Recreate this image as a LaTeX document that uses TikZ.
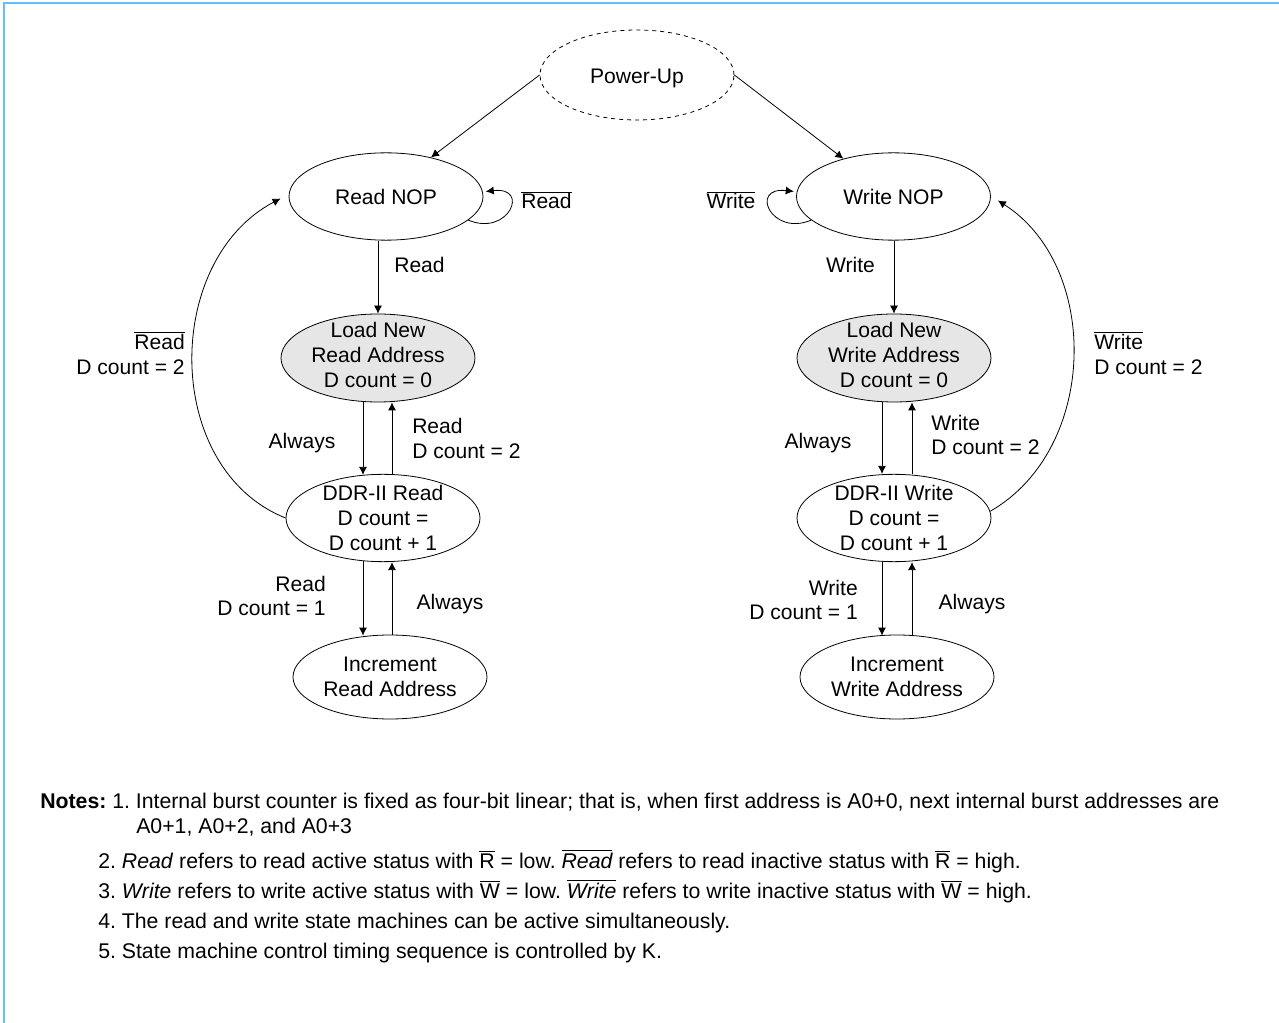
\documentclass[tikz,border=0pt]{standalone}
\usepackage{fontspec}
\setmainfont{Liberation Sans}
\usetikzlibrary{shapes.geometric,arrows.meta,calc}
\definecolor{frameblue}{RGB}{102,190,255}
\definecolor{loadgray}{RGB}{230,230,230}
\frenchspacing
\begin{document}
\begin{tikzpicture}[x=0.75pt,y=-0.75pt,
  every node/.style={font=\fontsize{15.8}{18.4}\selectfont, inner sep=0pt},
  state/.style={ellipse, draw, line width=0.6pt, minimum width=145.5pt, minimum height=65.5pt},
  txt/.style={label={[align=center]center:{#1}}},
  arr/.style={-{Latex[length=6pt,width=6pt]}, line width=0.6pt},
  note/.style={anchor=base west, font=\fontsize{15.95}{18}\selectfont}]
\useasboundingbox (0,0) rectangle (1279,1023);
\draw[frameblue, line width=1.5pt] (1279,3) -- (4,3) -- (4,1023);

% states
\node[state, dash pattern=on 3pt off 3pt, minimum height=67.5pt,
  label={[align=center,yshift=-2.25pt]center:{Power-Up}}] (pu) at (637,75) {};
\node[state, txt={Read NOP}] (rnop) at (386,196.5) {};
\node[state, fill=loadgray, minimum height=66pt,
  label={[align=center,yshift=2.25pt]center:{Load New\\Read Address\\D count = 0}}] (rload) at (378,358) {};
\node[state, txt={DDR-II Read\\D count =\\D count + 1}] (rddr) at (383,518) {};
\node[state, minimum height=63pt, txt={Increment\\Read Address}] (rinc) at (390,677) {};
\node[state, txt={Write NOP}] (wnop) at (893.5,196.5) {};
\node[state, fill=loadgray, minimum height=66pt,
  label={[align=center,yshift=2.25pt]center:{Load New\\Write Address\\D count = 0}}] (wload) at (894,358) {};
\node[state, txt={DDR-II Write\\D count =\\D count + 1}] (wddr) at (894,518) {};
\node[state, minimum height=63pt, txt={Increment\\Write Address}] (winc) at (897,677) {};

% labels
\node[anchor=base] (lr1) at (419.5,272.5) {Read};
\node[anchor=base] (lw1) at (850.5,272.5) {Write};
\node[anchor=base] (lr0) at (546.5,209) {$\overline{\mbox{Read}}$};
\node[anchor=base] (lw0) at (731,209) {$\overline{\mbox{Write}}$};
\node[anchor=west, align=left] (lr2) at (412,438.5) {Read\\D count = 2};
\node[anchor=west, align=left] (lw2) at (931,435) {Write\\D count = 2};
\node[anchor=east, align=right] (lr3) at (185,353) {$\overline{\mbox{Read}}$\\D count = 2};
\node[anchor=west, align=left] (lw3) at (1094,353) {$\overline{\mbox{Write}}$\\D count = 2};
\node (la1) at (302,443) {Always};
\node (la2) at (818,443) {Always};
\node[anchor=east, align=right] (lr4) at (326,596) {Read\\D count = 1};
\node[anchor=east, align=right] (lw4) at (858,600) {Write\\D count = 1};
\node (la3) at (450,604) {Always};
\node (la4) at (972,604) {Always};

% connectors
\draw[arr] (pu.west) -- (rnop.41);
\draw[arr] (pu.east) -- (wnop.143);
\draw[arr] (rnop.-16) .. controls +(40,17) and +(45,-5) .. ($(rnop.3)+(3,0)$);
\draw[arr] (wnop.-164) .. controls +(-40,17) and +(-45,-5) .. ($(wnop.177)+(-3,0)$);
\draw[arr] (rnop.south -| rload.north) -- (rload.north);
\draw[arr] (wnop.south -| wload.north) -- (wload.north);
\draw[arr] ($(rload.south)+(-15,0)$) -- ($(rddr.north)+(-20,1)$);
\draw[arr] ($(rddr.north)+(9,0)$) -- ($(rload.south)+(14,0)$);
\draw[arr] ($(rddr.south)+(-20,-1)$) -- ($(rinc.north)+(-27,1)$);
\draw[arr] ($(rinc.north)+(2,0)$) -- ($(rddr.south)+(9,0)$);
\draw[arr] ($(wload.south)+(-12,0)$) -- ($(wddr.north)+(-12,0)$);
\draw[arr] ($(wddr.north)+(18,0)$) -- ($(wload.south)+(18,0)$);
\draw[arr] ($(wddr.south)+(-12,0)$) -- ($(winc.north)+(-15,1)$);
\draw[arr] ($(winc.north)+(15,0)$) -- ($(wddr.south)+(18,0)$);
\draw[arr] (rddr.west) .. controls +(-123,-49) and +(-118,62) .. ($(rnop.west)+(-8,2)$);
\draw[arr] (wddr.4) .. controls +(108,-62) and +(103,66) .. ($(wnop.east)+(7,4)$);

% notes
\node[note] (n0) at (40,808) {\textbf{Notes:}};
\node[note] (n1) at (112,808) {1. Internal burst counter is fixed as four-bit linear; that is, when first address is A0+0, next internal burst addresses are};
\node[note] (n1b) at (136,833) {A0+1, A0+2, and A0+3};
\node[note] (n2) at (98,868) {2. \textit{Read} refers to read active status with $\overline{\mbox{R}}$ = low. $\overline{\mbox{\itshape Read}}$ refers to read inactive status with $\overline{\mbox{R}}$ = high.};
\node[note] (n3) at (98,898) {3. \textit{Write} refers to write active status with $\overline{\mbox{W}}$ = low. $\overline{\mbox{\itshape Write}}$ refers to write inactive status with $\overline{\mbox{W}}$ = high.};
\node[note] (n4) at (98,928) {4. The read and write state machines can be active simultaneously.};
\node[note] (n5) at (98,958) {5. State machine control timing sequence is controlled by K.};
\end{tikzpicture}
\end{document}
